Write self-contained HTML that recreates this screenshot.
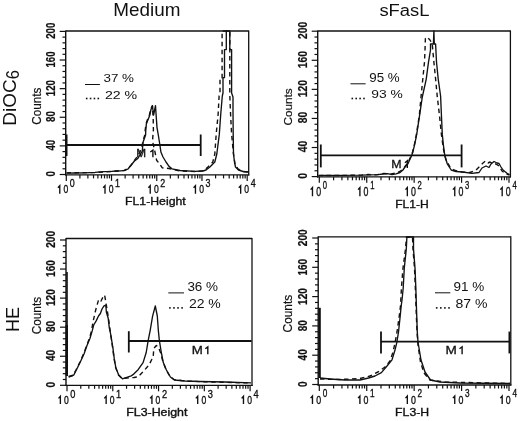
<!DOCTYPE html>
<html><head><meta charset="utf-8"><title>Figure</title>
<style>html,body{margin:0;padding:0;background:#fff;}body{width:520px;height:421px;position:relative;overflow:hidden;font-family:"Liberation Sans",sans-serif;}</style>
</head><body>
<svg width="520" height="421" viewBox="0 0 520 421" style="position:absolute;left:0;top:0;will-change:transform" font-family='"Liberation Sans", sans-serif' fill="#111">
<rect width="520" height="421" fill="#fff"/>
<text transform="translate(113.351,15.7) scale(1.083,1)" font-size="17.442" >Medium</text>
<text transform="translate(379.385,15.6) scale(1.092,1)" font-size="16.86" >sFasL</text>
<text transform="translate(15.7,125.756) rotate(-90) scale(1.07,1)" font-size="17.733" >DiOC</text>
<text transform="translate(19.3,79.252) rotate(-90) scale(0.942,1)" font-size="17.733" >6</text>
<text transform="translate(18.7,332.079) rotate(-90) scale(0.955,1)" font-size="18.895" >HE</text>
<line x1="65.7" y1="31" x2="248.7" y2="31" stroke="#111" stroke-width="1.3" />
<line x1="248.7" y1="30.4" x2="248.7" y2="175.5" stroke="#111" stroke-width="1.3" />
<line x1="65.7" y1="30.4" x2="65.7" y2="175.5" stroke="#111" stroke-width="1.4" />
<line x1="65.1" y1="174.9" x2="249.3" y2="174.9" stroke="#111" stroke-width="1.3" />
<line x1="59.7" y1="174.5" x2="65.7" y2="174.5" stroke="#111" stroke-width="1.2" />
<line x1="62.5" y1="168.78" x2="65.7" y2="168.78" stroke="#111" stroke-width="1.2" />
<line x1="62.5" y1="163.05" x2="65.7" y2="163.05" stroke="#111" stroke-width="1.2" />
<line x1="62.5" y1="157.33" x2="65.7" y2="157.33" stroke="#111" stroke-width="1.2" />
<line x1="62.5" y1="151.6" x2="65.7" y2="151.6" stroke="#111" stroke-width="1.2" />
<line x1="59.7" y1="145.88" x2="65.7" y2="145.88" stroke="#111" stroke-width="1.2" />
<line x1="62.5" y1="140.16" x2="65.7" y2="140.16" stroke="#111" stroke-width="1.2" />
<line x1="62.5" y1="134.43" x2="65.7" y2="134.43" stroke="#111" stroke-width="1.2" />
<line x1="62.5" y1="128.71" x2="65.7" y2="128.71" stroke="#111" stroke-width="1.2" />
<line x1="62.5" y1="122.98" x2="65.7" y2="122.98" stroke="#111" stroke-width="1.2" />
<line x1="59.7" y1="117.26" x2="65.7" y2="117.26" stroke="#111" stroke-width="1.2" />
<line x1="62.5" y1="111.54" x2="65.7" y2="111.54" stroke="#111" stroke-width="1.2" />
<line x1="62.5" y1="105.81" x2="65.7" y2="105.81" stroke="#111" stroke-width="1.2" />
<line x1="62.5" y1="100.09" x2="65.7" y2="100.09" stroke="#111" stroke-width="1.2" />
<line x1="62.5" y1="94.36" x2="65.7" y2="94.36" stroke="#111" stroke-width="1.2" />
<line x1="59.7" y1="88.64" x2="65.7" y2="88.64" stroke="#111" stroke-width="1.2" />
<line x1="62.5" y1="82.92" x2="65.7" y2="82.92" stroke="#111" stroke-width="1.2" />
<line x1="62.5" y1="77.19" x2="65.7" y2="77.19" stroke="#111" stroke-width="1.2" />
<line x1="62.5" y1="71.47" x2="65.7" y2="71.47" stroke="#111" stroke-width="1.2" />
<line x1="62.5" y1="65.74" x2="65.7" y2="65.74" stroke="#111" stroke-width="1.2" />
<line x1="59.7" y1="60.02" x2="65.7" y2="60.02" stroke="#111" stroke-width="1.2" />
<line x1="62.5" y1="54.3" x2="65.7" y2="54.3" stroke="#111" stroke-width="1.2" />
<line x1="62.5" y1="48.57" x2="65.7" y2="48.57" stroke="#111" stroke-width="1.2" />
<line x1="62.5" y1="42.85" x2="65.7" y2="42.85" stroke="#111" stroke-width="1.2" />
<line x1="62.5" y1="37.12" x2="65.7" y2="37.12" stroke="#111" stroke-width="1.2" />
<line x1="59.7" y1="31.4" x2="65.7" y2="31.4" stroke="#111" stroke-width="1.2" />
<line x1="66.3" y1="174.9" x2="66.3" y2="180.9" stroke="#111" stroke-width="1.2" />
<line x1="79.91" y1="174.9" x2="79.91" y2="178.4" stroke="#111" stroke-width="1.2" />
<line x1="87.88" y1="174.9" x2="87.88" y2="178.4" stroke="#111" stroke-width="1.2" />
<line x1="93.53" y1="174.9" x2="93.53" y2="178.4" stroke="#111" stroke-width="1.2" />
<line x1="97.91" y1="174.9" x2="97.91" y2="178.4" stroke="#111" stroke-width="1.2" />
<line x1="101.49" y1="174.9" x2="101.49" y2="178.4" stroke="#111" stroke-width="1.2" />
<line x1="104.52" y1="174.9" x2="104.52" y2="178.4" stroke="#111" stroke-width="1.2" />
<line x1="107.14" y1="174.9" x2="107.14" y2="178.4" stroke="#111" stroke-width="1.2" />
<line x1="109.46" y1="174.9" x2="109.46" y2="178.4" stroke="#111" stroke-width="1.2" />
<line x1="111.52" y1="174.9" x2="111.52" y2="180.9" stroke="#111" stroke-width="1.2" />
<line x1="125.14" y1="174.9" x2="125.14" y2="178.4" stroke="#111" stroke-width="1.2" />
<line x1="133.1" y1="174.9" x2="133.1" y2="178.4" stroke="#111" stroke-width="1.2" />
<line x1="138.75" y1="174.9" x2="138.75" y2="178.4" stroke="#111" stroke-width="1.2" />
<line x1="143.14" y1="174.9" x2="143.14" y2="178.4" stroke="#111" stroke-width="1.2" />
<line x1="146.72" y1="174.9" x2="146.72" y2="178.4" stroke="#111" stroke-width="1.2" />
<line x1="149.74" y1="174.9" x2="149.74" y2="178.4" stroke="#111" stroke-width="1.2" />
<line x1="152.37" y1="174.9" x2="152.37" y2="178.4" stroke="#111" stroke-width="1.2" />
<line x1="154.68" y1="174.9" x2="154.68" y2="178.4" stroke="#111" stroke-width="1.2" />
<line x1="156.75" y1="174.9" x2="156.75" y2="180.9" stroke="#111" stroke-width="1.2" />
<line x1="170.36" y1="174.9" x2="170.36" y2="178.4" stroke="#111" stroke-width="1.2" />
<line x1="178.33" y1="174.9" x2="178.33" y2="178.4" stroke="#111" stroke-width="1.2" />
<line x1="183.98" y1="174.9" x2="183.98" y2="178.4" stroke="#111" stroke-width="1.2" />
<line x1="188.36" y1="174.9" x2="188.36" y2="178.4" stroke="#111" stroke-width="1.2" />
<line x1="191.94" y1="174.9" x2="191.94" y2="178.4" stroke="#111" stroke-width="1.2" />
<line x1="194.97" y1="174.9" x2="194.97" y2="178.4" stroke="#111" stroke-width="1.2" />
<line x1="197.59" y1="174.9" x2="197.59" y2="178.4" stroke="#111" stroke-width="1.2" />
<line x1="199.91" y1="174.9" x2="199.91" y2="178.4" stroke="#111" stroke-width="1.2" />
<line x1="201.97" y1="174.9" x2="201.97" y2="180.9" stroke="#111" stroke-width="1.2" />
<line x1="215.59" y1="174.9" x2="215.59" y2="178.4" stroke="#111" stroke-width="1.2" />
<line x1="223.55" y1="174.9" x2="223.55" y2="178.4" stroke="#111" stroke-width="1.2" />
<line x1="229.2" y1="174.9" x2="229.2" y2="178.4" stroke="#111" stroke-width="1.2" />
<line x1="233.59" y1="174.9" x2="233.59" y2="178.4" stroke="#111" stroke-width="1.2" />
<line x1="237.17" y1="174.9" x2="237.17" y2="178.4" stroke="#111" stroke-width="1.2" />
<line x1="240.19" y1="174.9" x2="240.19" y2="178.4" stroke="#111" stroke-width="1.2" />
<line x1="242.82" y1="174.9" x2="242.82" y2="178.4" stroke="#111" stroke-width="1.2" />
<line x1="245.13" y1="174.9" x2="245.13" y2="178.4" stroke="#111" stroke-width="1.2" />
<line x1="247.2" y1="174.9" x2="247.2" y2="180.9" stroke="#111" stroke-width="1.2" />
<text transform="translate(54.7,176.584) rotate(-90) scale(0.759,1)" font-size="12.751" font-weight="bold" stroke="#111" stroke-width="0.2">0</text>
<text transform="translate(54.7,150.533) rotate(-90) scale(0.759,1)" font-size="12.751" font-weight="bold" stroke="#111" stroke-width="0.2">40</text>
<text transform="translate(54.7,121.995) rotate(-90) scale(0.759,1)" font-size="12.751" font-weight="bold" stroke="#111" stroke-width="0.2">80</text>
<text transform="translate(54.7,96.214) rotate(-90) scale(0.759,1)" font-size="12.751" font-weight="bold" stroke="#111" stroke-width="0.2">120</text>
<text transform="translate(54.7,67.594) rotate(-90) scale(0.759,1)" font-size="12.751" font-weight="bold" stroke="#111" stroke-width="0.2">160</text>
<text transform="translate(54.7,38.839) rotate(-90) scale(0.759,1)" font-size="12.751" font-weight="bold" stroke="#111" stroke-width="0.2">200</text>
<text transform="translate(40.9,124.696) rotate(-90) scale(0.914,1)" font-size="12.791" stroke="#111" stroke-width="0.2">Counts</text>
<path d="M57.9,187.8 L59.775,185.7 L59.775,193.7" fill="none" stroke="#111" stroke-width="1.35" stroke-linejoin="miter"/>
<text transform="translate(63.465,193.4) scale(0.778,1)" font-size="11.032"  stroke="#111" stroke-width="0.35">0</text>
<text transform="translate(69.754,186.9) scale(0.778,1)" font-size="11.461" stroke="#111" stroke-width="0.35">0</text>
<path d="M103.125,187.8 L105,185.7 L105,193.7" fill="none" stroke="#111" stroke-width="1.35" stroke-linejoin="miter"/>
<text transform="translate(108.69,193.4) scale(0.778,1)" font-size="11.032"  stroke="#111" stroke-width="0.35">0</text>
<text transform="translate(114.979,186.9) scale(0.778,1)" font-size="11.461" stroke="#111" stroke-width="0.35">1</text>
<path d="M148.35,187.8 L150.225,185.7 L150.225,193.7" fill="none" stroke="#111" stroke-width="1.35" stroke-linejoin="miter"/>
<text transform="translate(153.915,193.4) scale(0.778,1)" font-size="11.032"  stroke="#111" stroke-width="0.35">0</text>
<text transform="translate(160.204,186.9) scale(0.778,1)" font-size="11.461" stroke="#111" stroke-width="0.35">2</text>
<path d="M193.575,187.8 L195.45,185.7 L195.45,193.7" fill="none" stroke="#111" stroke-width="1.35" stroke-linejoin="miter"/>
<text transform="translate(199.14,193.4) scale(0.778,1)" font-size="11.032"  stroke="#111" stroke-width="0.35">0</text>
<text transform="translate(205.429,186.9) scale(0.778,1)" font-size="11.461" stroke="#111" stroke-width="0.35">3</text>
<path d="M238.8,187.8 L240.675,185.7 L240.675,193.7" fill="none" stroke="#111" stroke-width="1.35" stroke-linejoin="miter"/>
<text transform="translate(244.365,193.4) scale(0.778,1)" font-size="11.032"  stroke="#111" stroke-width="0.35">0</text>
<text transform="translate(250.654,186.9) scale(0.778,1)" font-size="11.461" stroke="#111" stroke-width="0.35">4</text>
<text transform="translate(124.992,205.2) scale(1.127,1)" font-size="10.901" stroke="#111" stroke-width="0.35">FL1-Height</text>
<line x1="317.7" y1="31" x2="510.4" y2="31" stroke="#111" stroke-width="1.3" />
<line x1="510.4" y1="30.4" x2="510.4" y2="177.4" stroke="#111" stroke-width="1.3" />
<line x1="317.7" y1="30.4" x2="317.7" y2="177.4" stroke="#111" stroke-width="1.4" />
<line x1="317.1" y1="176.8" x2="511" y2="176.8" stroke="#111" stroke-width="1.3" />
<line x1="311.7" y1="176.6" x2="317.7" y2="176.6" stroke="#111" stroke-width="1.2" />
<line x1="314.5" y1="170.78" x2="317.7" y2="170.78" stroke="#111" stroke-width="1.2" />
<line x1="314.5" y1="164.97" x2="317.7" y2="164.97" stroke="#111" stroke-width="1.2" />
<line x1="314.5" y1="159.15" x2="317.7" y2="159.15" stroke="#111" stroke-width="1.2" />
<line x1="314.5" y1="153.34" x2="317.7" y2="153.34" stroke="#111" stroke-width="1.2" />
<line x1="311.7" y1="147.52" x2="317.7" y2="147.52" stroke="#111" stroke-width="1.2" />
<line x1="314.5" y1="141.7" x2="317.7" y2="141.7" stroke="#111" stroke-width="1.2" />
<line x1="314.5" y1="135.89" x2="317.7" y2="135.89" stroke="#111" stroke-width="1.2" />
<line x1="314.5" y1="130.07" x2="317.7" y2="130.07" stroke="#111" stroke-width="1.2" />
<line x1="314.5" y1="124.26" x2="317.7" y2="124.26" stroke="#111" stroke-width="1.2" />
<line x1="311.7" y1="118.44" x2="317.7" y2="118.44" stroke="#111" stroke-width="1.2" />
<line x1="314.5" y1="112.62" x2="317.7" y2="112.62" stroke="#111" stroke-width="1.2" />
<line x1="314.5" y1="106.81" x2="317.7" y2="106.81" stroke="#111" stroke-width="1.2" />
<line x1="314.5" y1="100.99" x2="317.7" y2="100.99" stroke="#111" stroke-width="1.2" />
<line x1="314.5" y1="95.18" x2="317.7" y2="95.18" stroke="#111" stroke-width="1.2" />
<line x1="311.7" y1="89.36" x2="317.7" y2="89.36" stroke="#111" stroke-width="1.2" />
<line x1="314.5" y1="83.54" x2="317.7" y2="83.54" stroke="#111" stroke-width="1.2" />
<line x1="314.5" y1="77.73" x2="317.7" y2="77.73" stroke="#111" stroke-width="1.2" />
<line x1="314.5" y1="71.91" x2="317.7" y2="71.91" stroke="#111" stroke-width="1.2" />
<line x1="314.5" y1="66.1" x2="317.7" y2="66.1" stroke="#111" stroke-width="1.2" />
<line x1="311.7" y1="60.28" x2="317.7" y2="60.28" stroke="#111" stroke-width="1.2" />
<line x1="314.5" y1="54.46" x2="317.7" y2="54.46" stroke="#111" stroke-width="1.2" />
<line x1="314.5" y1="48.65" x2="317.7" y2="48.65" stroke="#111" stroke-width="1.2" />
<line x1="314.5" y1="42.83" x2="317.7" y2="42.83" stroke="#111" stroke-width="1.2" />
<line x1="314.5" y1="37.02" x2="317.7" y2="37.02" stroke="#111" stroke-width="1.2" />
<line x1="311.7" y1="31.2" x2="317.7" y2="31.2" stroke="#111" stroke-width="1.2" />
<line x1="319.3" y1="176.8" x2="319.3" y2="182.8" stroke="#111" stroke-width="1.2" />
<line x1="333.58" y1="176.8" x2="333.58" y2="180.3" stroke="#111" stroke-width="1.2" />
<line x1="341.93" y1="176.8" x2="341.93" y2="180.3" stroke="#111" stroke-width="1.2" />
<line x1="347.85" y1="176.8" x2="347.85" y2="180.3" stroke="#111" stroke-width="1.2" />
<line x1="352.45" y1="176.8" x2="352.45" y2="180.3" stroke="#111" stroke-width="1.2" />
<line x1="356.2" y1="176.8" x2="356.2" y2="180.3" stroke="#111" stroke-width="1.2" />
<line x1="359.38" y1="176.8" x2="359.38" y2="180.3" stroke="#111" stroke-width="1.2" />
<line x1="362.13" y1="176.8" x2="362.13" y2="180.3" stroke="#111" stroke-width="1.2" />
<line x1="364.55" y1="176.8" x2="364.55" y2="180.3" stroke="#111" stroke-width="1.2" />
<line x1="366.73" y1="176.8" x2="366.73" y2="182.8" stroke="#111" stroke-width="1.2" />
<line x1="381" y1="176.8" x2="381" y2="180.3" stroke="#111" stroke-width="1.2" />
<line x1="389.35" y1="176.8" x2="389.35" y2="180.3" stroke="#111" stroke-width="1.2" />
<line x1="395.28" y1="176.8" x2="395.28" y2="180.3" stroke="#111" stroke-width="1.2" />
<line x1="399.87" y1="176.8" x2="399.87" y2="180.3" stroke="#111" stroke-width="1.2" />
<line x1="403.63" y1="176.8" x2="403.63" y2="180.3" stroke="#111" stroke-width="1.2" />
<line x1="406.8" y1="176.8" x2="406.8" y2="180.3" stroke="#111" stroke-width="1.2" />
<line x1="409.55" y1="176.8" x2="409.55" y2="180.3" stroke="#111" stroke-width="1.2" />
<line x1="411.98" y1="176.8" x2="411.98" y2="180.3" stroke="#111" stroke-width="1.2" />
<line x1="414.15" y1="176.8" x2="414.15" y2="182.8" stroke="#111" stroke-width="1.2" />
<line x1="428.43" y1="176.8" x2="428.43" y2="180.3" stroke="#111" stroke-width="1.2" />
<line x1="436.78" y1="176.8" x2="436.78" y2="180.3" stroke="#111" stroke-width="1.2" />
<line x1="442.7" y1="176.8" x2="442.7" y2="180.3" stroke="#111" stroke-width="1.2" />
<line x1="447.3" y1="176.8" x2="447.3" y2="180.3" stroke="#111" stroke-width="1.2" />
<line x1="451.05" y1="176.8" x2="451.05" y2="180.3" stroke="#111" stroke-width="1.2" />
<line x1="454.23" y1="176.8" x2="454.23" y2="180.3" stroke="#111" stroke-width="1.2" />
<line x1="456.98" y1="176.8" x2="456.98" y2="180.3" stroke="#111" stroke-width="1.2" />
<line x1="459.4" y1="176.8" x2="459.4" y2="180.3" stroke="#111" stroke-width="1.2" />
<line x1="461.57" y1="176.8" x2="461.57" y2="182.8" stroke="#111" stroke-width="1.2" />
<line x1="475.85" y1="176.8" x2="475.85" y2="180.3" stroke="#111" stroke-width="1.2" />
<line x1="484.2" y1="176.8" x2="484.2" y2="180.3" stroke="#111" stroke-width="1.2" />
<line x1="490.13" y1="176.8" x2="490.13" y2="180.3" stroke="#111" stroke-width="1.2" />
<line x1="494.72" y1="176.8" x2="494.72" y2="180.3" stroke="#111" stroke-width="1.2" />
<line x1="498.48" y1="176.8" x2="498.48" y2="180.3" stroke="#111" stroke-width="1.2" />
<line x1="501.65" y1="176.8" x2="501.65" y2="180.3" stroke="#111" stroke-width="1.2" />
<line x1="504.4" y1="176.8" x2="504.4" y2="180.3" stroke="#111" stroke-width="1.2" />
<line x1="506.83" y1="176.8" x2="506.83" y2="180.3" stroke="#111" stroke-width="1.2" />
<line x1="509" y1="176.8" x2="509" y2="182.8" stroke="#111" stroke-width="1.2" />
<text transform="translate(306.5,178.659) rotate(-90) scale(0.836,1)" font-size="12.321" font-weight="bold" stroke="#111" stroke-width="0.2">0</text>
<text transform="translate(306.5,152.314) rotate(-90) scale(0.836,1)" font-size="12.321" font-weight="bold" stroke="#111" stroke-width="0.2">40</text>
<text transform="translate(306.5,123.321) rotate(-90) scale(0.836,1)" font-size="12.321" font-weight="bold" stroke="#111" stroke-width="0.2">80</text>
<text transform="translate(306.5,97.265) rotate(-90) scale(0.836,1)" font-size="12.321" font-weight="bold" stroke="#111" stroke-width="0.2">120</text>
<text transform="translate(306.5,68.185) rotate(-90) scale(0.836,1)" font-size="12.321" font-weight="bold" stroke="#111" stroke-width="0.2">160</text>
<text transform="translate(306.5,38.961) rotate(-90) scale(0.836,1)" font-size="12.321" font-weight="bold" stroke="#111" stroke-width="0.2">200</text>
<text transform="translate(292.3,125.601) rotate(-90) scale(1.039,1)" font-size="11.337" stroke="#111" stroke-width="0.2">Counts</text>
<path d="M310.6,189.6 L312.475,187.5 L312.475,196.3" fill="none" stroke="#111" stroke-width="1.35" stroke-linejoin="miter"/>
<text transform="translate(316.157,196) scale(0.722,1)" font-size="12.178"  stroke="#111" stroke-width="0.35">0</text>
<text transform="translate(322.718,189.1) scale(0.722,1)" font-size="10.602" stroke="#111" stroke-width="0.35">0</text>
<path d="M358.025,189.6 L359.9,187.5 L359.9,196.3" fill="none" stroke="#111" stroke-width="1.35" stroke-linejoin="miter"/>
<text transform="translate(363.582,196) scale(0.722,1)" font-size="12.178"  stroke="#111" stroke-width="0.35">0</text>
<text transform="translate(370.143,189.1) scale(0.722,1)" font-size="10.602" stroke="#111" stroke-width="0.35">1</text>
<path d="M405.45,189.6 L407.325,187.5 L407.325,196.3" fill="none" stroke="#111" stroke-width="1.35" stroke-linejoin="miter"/>
<text transform="translate(411.007,196) scale(0.722,1)" font-size="12.178"  stroke="#111" stroke-width="0.35">0</text>
<text transform="translate(417.568,189.1) scale(0.722,1)" font-size="10.602" stroke="#111" stroke-width="0.35">2</text>
<path d="M452.875,189.6 L454.75,187.5 L454.75,196.3" fill="none" stroke="#111" stroke-width="1.35" stroke-linejoin="miter"/>
<text transform="translate(458.432,196) scale(0.722,1)" font-size="12.178"  stroke="#111" stroke-width="0.35">0</text>
<text transform="translate(464.993,189.1) scale(0.722,1)" font-size="10.602" stroke="#111" stroke-width="0.35">3</text>
<path d="M500.3,189.6 L502.175,187.5 L502.175,196.3" fill="none" stroke="#111" stroke-width="1.35" stroke-linejoin="miter"/>
<text transform="translate(505.857,196) scale(0.722,1)" font-size="12.178"  stroke="#111" stroke-width="0.35">0</text>
<text transform="translate(512.418,189.1) scale(0.722,1)" font-size="10.602" stroke="#111" stroke-width="0.35">4</text>
<text transform="translate(395.206,207.6) scale(1.069,1)" font-size="11.337" stroke="#111" stroke-width="0.35">FL1-H</text>
<line x1="66" y1="238.5" x2="252" y2="238.5" stroke="#111" stroke-width="1.3" />
<line x1="252" y1="237.9" x2="252" y2="385.9" stroke="#111" stroke-width="1.3" />
<line x1="66" y1="237.9" x2="66" y2="385.9" stroke="#111" stroke-width="1.4" />
<line x1="65.4" y1="385.3" x2="252.6" y2="385.3" stroke="#111" stroke-width="1.3" />
<line x1="60" y1="385.3" x2="66" y2="385.3" stroke="#111" stroke-width="1.2" />
<line x1="62.8" y1="379.49" x2="66" y2="379.49" stroke="#111" stroke-width="1.2" />
<line x1="62.8" y1="373.68" x2="66" y2="373.68" stroke="#111" stroke-width="1.2" />
<line x1="62.8" y1="367.86" x2="66" y2="367.86" stroke="#111" stroke-width="1.2" />
<line x1="62.8" y1="362.05" x2="66" y2="362.05" stroke="#111" stroke-width="1.2" />
<line x1="60" y1="356.24" x2="66" y2="356.24" stroke="#111" stroke-width="1.2" />
<line x1="62.8" y1="350.43" x2="66" y2="350.43" stroke="#111" stroke-width="1.2" />
<line x1="62.8" y1="344.62" x2="66" y2="344.62" stroke="#111" stroke-width="1.2" />
<line x1="62.8" y1="338.8" x2="66" y2="338.8" stroke="#111" stroke-width="1.2" />
<line x1="62.8" y1="332.99" x2="66" y2="332.99" stroke="#111" stroke-width="1.2" />
<line x1="60" y1="327.18" x2="66" y2="327.18" stroke="#111" stroke-width="1.2" />
<line x1="62.8" y1="321.37" x2="66" y2="321.37" stroke="#111" stroke-width="1.2" />
<line x1="62.8" y1="315.56" x2="66" y2="315.56" stroke="#111" stroke-width="1.2" />
<line x1="62.8" y1="309.74" x2="66" y2="309.74" stroke="#111" stroke-width="1.2" />
<line x1="62.8" y1="303.93" x2="66" y2="303.93" stroke="#111" stroke-width="1.2" />
<line x1="60" y1="298.12" x2="66" y2="298.12" stroke="#111" stroke-width="1.2" />
<line x1="62.8" y1="292.31" x2="66" y2="292.31" stroke="#111" stroke-width="1.2" />
<line x1="62.8" y1="286.5" x2="66" y2="286.5" stroke="#111" stroke-width="1.2" />
<line x1="62.8" y1="280.68" x2="66" y2="280.68" stroke="#111" stroke-width="1.2" />
<line x1="62.8" y1="274.87" x2="66" y2="274.87" stroke="#111" stroke-width="1.2" />
<line x1="60" y1="269.06" x2="66" y2="269.06" stroke="#111" stroke-width="1.2" />
<line x1="62.8" y1="263.25" x2="66" y2="263.25" stroke="#111" stroke-width="1.2" />
<line x1="62.8" y1="257.44" x2="66" y2="257.44" stroke="#111" stroke-width="1.2" />
<line x1="62.8" y1="251.62" x2="66" y2="251.62" stroke="#111" stroke-width="1.2" />
<line x1="62.8" y1="245.81" x2="66" y2="245.81" stroke="#111" stroke-width="1.2" />
<line x1="60" y1="240" x2="66" y2="240" stroke="#111" stroke-width="1.2" />
<line x1="67" y1="385.3" x2="67" y2="391.3" stroke="#111" stroke-width="1.2" />
<line x1="80.78" y1="385.3" x2="80.78" y2="388.8" stroke="#111" stroke-width="1.2" />
<line x1="88.84" y1="385.3" x2="88.84" y2="388.8" stroke="#111" stroke-width="1.2" />
<line x1="94.56" y1="385.3" x2="94.56" y2="388.8" stroke="#111" stroke-width="1.2" />
<line x1="99" y1="385.3" x2="99" y2="388.8" stroke="#111" stroke-width="1.2" />
<line x1="102.62" y1="385.3" x2="102.62" y2="388.8" stroke="#111" stroke-width="1.2" />
<line x1="105.68" y1="385.3" x2="105.68" y2="388.8" stroke="#111" stroke-width="1.2" />
<line x1="108.34" y1="385.3" x2="108.34" y2="388.8" stroke="#111" stroke-width="1.2" />
<line x1="110.68" y1="385.3" x2="110.68" y2="388.8" stroke="#111" stroke-width="1.2" />
<line x1="112.78" y1="385.3" x2="112.78" y2="391.3" stroke="#111" stroke-width="1.2" />
<line x1="126.55" y1="385.3" x2="126.55" y2="388.8" stroke="#111" stroke-width="1.2" />
<line x1="134.62" y1="385.3" x2="134.62" y2="388.8" stroke="#111" stroke-width="1.2" />
<line x1="140.33" y1="385.3" x2="140.33" y2="388.8" stroke="#111" stroke-width="1.2" />
<line x1="144.77" y1="385.3" x2="144.77" y2="388.8" stroke="#111" stroke-width="1.2" />
<line x1="148.39" y1="385.3" x2="148.39" y2="388.8" stroke="#111" stroke-width="1.2" />
<line x1="151.46" y1="385.3" x2="151.46" y2="388.8" stroke="#111" stroke-width="1.2" />
<line x1="154.11" y1="385.3" x2="154.11" y2="388.8" stroke="#111" stroke-width="1.2" />
<line x1="156.46" y1="385.3" x2="156.46" y2="388.8" stroke="#111" stroke-width="1.2" />
<line x1="158.55" y1="385.3" x2="158.55" y2="391.3" stroke="#111" stroke-width="1.2" />
<line x1="172.33" y1="385.3" x2="172.33" y2="388.8" stroke="#111" stroke-width="1.2" />
<line x1="180.39" y1="385.3" x2="180.39" y2="388.8" stroke="#111" stroke-width="1.2" />
<line x1="186.11" y1="385.3" x2="186.11" y2="388.8" stroke="#111" stroke-width="1.2" />
<line x1="190.55" y1="385.3" x2="190.55" y2="388.8" stroke="#111" stroke-width="1.2" />
<line x1="194.17" y1="385.3" x2="194.17" y2="388.8" stroke="#111" stroke-width="1.2" />
<line x1="197.23" y1="385.3" x2="197.23" y2="388.8" stroke="#111" stroke-width="1.2" />
<line x1="199.89" y1="385.3" x2="199.89" y2="388.8" stroke="#111" stroke-width="1.2" />
<line x1="202.23" y1="385.3" x2="202.23" y2="388.8" stroke="#111" stroke-width="1.2" />
<line x1="204.32" y1="385.3" x2="204.32" y2="391.3" stroke="#111" stroke-width="1.2" />
<line x1="218.1" y1="385.3" x2="218.1" y2="388.8" stroke="#111" stroke-width="1.2" />
<line x1="226.17" y1="385.3" x2="226.17" y2="388.8" stroke="#111" stroke-width="1.2" />
<line x1="231.88" y1="385.3" x2="231.88" y2="388.8" stroke="#111" stroke-width="1.2" />
<line x1="236.32" y1="385.3" x2="236.32" y2="388.8" stroke="#111" stroke-width="1.2" />
<line x1="239.94" y1="385.3" x2="239.94" y2="388.8" stroke="#111" stroke-width="1.2" />
<line x1="243.01" y1="385.3" x2="243.01" y2="388.8" stroke="#111" stroke-width="1.2" />
<line x1="245.66" y1="385.3" x2="245.66" y2="388.8" stroke="#111" stroke-width="1.2" />
<line x1="248.01" y1="385.3" x2="248.01" y2="388.8" stroke="#111" stroke-width="1.2" />
<line x1="250.1" y1="385.3" x2="250.1" y2="391.3" stroke="#111" stroke-width="1.2" />
<text transform="translate(54.7,387.489) rotate(-90) scale(0.763,1)" font-size="13.181" font-weight="bold" stroke="#111" stroke-width="0.2">0</text>
<text transform="translate(54.7,361.097) rotate(-90) scale(0.763,1)" font-size="13.181" font-weight="bold" stroke="#111" stroke-width="0.2">40</text>
<text transform="translate(54.7,332.123) rotate(-90) scale(0.763,1)" font-size="13.181" font-weight="bold" stroke="#111" stroke-width="0.2">80</text>
<text transform="translate(54.7,306.012) rotate(-90) scale(0.763,1)" font-size="13.181" font-weight="bold" stroke="#111" stroke-width="0.2">120</text>
<text transform="translate(54.7,276.952) rotate(-90) scale(0.763,1)" font-size="13.181" font-weight="bold" stroke="#111" stroke-width="0.2">160</text>
<text transform="translate(54.7,247.752) rotate(-90) scale(0.763,1)" font-size="13.181" font-weight="bold" stroke="#111" stroke-width="0.2">200</text>
<text transform="translate(40.5,334.303) rotate(-90) scale(0.945,1)" font-size="12.5" stroke="#111" stroke-width="0.2">Counts</text>
<path d="M58.5,398.4 L60.375,396.3 L60.375,404.1" fill="none" stroke="#111" stroke-width="1.35" stroke-linejoin="miter"/>
<text transform="translate(64.065,403.8) scale(0.798,1)" font-size="10.745"  stroke="#111" stroke-width="0.35">0</text>
<text transform="translate(70.337,397.7) scale(0.798,1)" font-size="11.605" stroke="#111" stroke-width="0.35">0</text>
<path d="M104.275,398.4 L106.15,396.3 L106.15,404.1" fill="none" stroke="#111" stroke-width="1.35" stroke-linejoin="miter"/>
<text transform="translate(109.84,403.8) scale(0.798,1)" font-size="10.745"  stroke="#111" stroke-width="0.35">0</text>
<text transform="translate(116.112,397.7) scale(0.798,1)" font-size="11.605" stroke="#111" stroke-width="0.35">1</text>
<path d="M150.05,398.4 L151.925,396.3 L151.925,404.1" fill="none" stroke="#111" stroke-width="1.35" stroke-linejoin="miter"/>
<text transform="translate(155.615,403.8) scale(0.798,1)" font-size="10.745"  stroke="#111" stroke-width="0.35">0</text>
<text transform="translate(161.887,397.7) scale(0.798,1)" font-size="11.605" stroke="#111" stroke-width="0.35">2</text>
<path d="M195.825,398.4 L197.7,396.3 L197.7,404.1" fill="none" stroke="#111" stroke-width="1.35" stroke-linejoin="miter"/>
<text transform="translate(201.39,403.8) scale(0.798,1)" font-size="10.745"  stroke="#111" stroke-width="0.35">0</text>
<text transform="translate(207.662,397.7) scale(0.798,1)" font-size="11.605" stroke="#111" stroke-width="0.35">3</text>
<path d="M241.6,398.4 L243.475,396.3 L243.475,404.1" fill="none" stroke="#111" stroke-width="1.35" stroke-linejoin="miter"/>
<text transform="translate(247.165,403.8) scale(0.798,1)" font-size="10.745"  stroke="#111" stroke-width="0.35">0</text>
<text transform="translate(253.437,397.7) scale(0.798,1)" font-size="11.605" stroke="#111" stroke-width="0.35">4</text>
<text transform="translate(126.184,416.2) scale(1.201,1)" font-size="10.32" stroke="#111" stroke-width="0.35">FL3-Height</text>
<line x1="318.2" y1="236.8" x2="510.8" y2="236.8" stroke="#111" stroke-width="1.3" />
<line x1="510.8" y1="236.2" x2="510.8" y2="385.6" stroke="#111" stroke-width="1.3" />
<line x1="318.2" y1="236.2" x2="318.2" y2="385.6" stroke="#111" stroke-width="1.4" />
<line x1="317.6" y1="385" x2="511.4" y2="385" stroke="#111" stroke-width="1.3" />
<line x1="312.2" y1="384.5" x2="318.2" y2="384.5" stroke="#111" stroke-width="1.2" />
<line x1="315" y1="378.64" x2="318.2" y2="378.64" stroke="#111" stroke-width="1.2" />
<line x1="315" y1="372.78" x2="318.2" y2="372.78" stroke="#111" stroke-width="1.2" />
<line x1="315" y1="366.92" x2="318.2" y2="366.92" stroke="#111" stroke-width="1.2" />
<line x1="315" y1="361.06" x2="318.2" y2="361.06" stroke="#111" stroke-width="1.2" />
<line x1="312.2" y1="355.2" x2="318.2" y2="355.2" stroke="#111" stroke-width="1.2" />
<line x1="315" y1="349.34" x2="318.2" y2="349.34" stroke="#111" stroke-width="1.2" />
<line x1="315" y1="343.48" x2="318.2" y2="343.48" stroke="#111" stroke-width="1.2" />
<line x1="315" y1="337.62" x2="318.2" y2="337.62" stroke="#111" stroke-width="1.2" />
<line x1="315" y1="331.76" x2="318.2" y2="331.76" stroke="#111" stroke-width="1.2" />
<line x1="312.2" y1="325.9" x2="318.2" y2="325.9" stroke="#111" stroke-width="1.2" />
<line x1="315" y1="320.04" x2="318.2" y2="320.04" stroke="#111" stroke-width="1.2" />
<line x1="315" y1="314.18" x2="318.2" y2="314.18" stroke="#111" stroke-width="1.2" />
<line x1="315" y1="308.32" x2="318.2" y2="308.32" stroke="#111" stroke-width="1.2" />
<line x1="315" y1="302.46" x2="318.2" y2="302.46" stroke="#111" stroke-width="1.2" />
<line x1="312.2" y1="296.6" x2="318.2" y2="296.6" stroke="#111" stroke-width="1.2" />
<line x1="315" y1="290.74" x2="318.2" y2="290.74" stroke="#111" stroke-width="1.2" />
<line x1="315" y1="284.88" x2="318.2" y2="284.88" stroke="#111" stroke-width="1.2" />
<line x1="315" y1="279.02" x2="318.2" y2="279.02" stroke="#111" stroke-width="1.2" />
<line x1="315" y1="273.16" x2="318.2" y2="273.16" stroke="#111" stroke-width="1.2" />
<line x1="312.2" y1="267.3" x2="318.2" y2="267.3" stroke="#111" stroke-width="1.2" />
<line x1="315" y1="261.44" x2="318.2" y2="261.44" stroke="#111" stroke-width="1.2" />
<line x1="315" y1="255.58" x2="318.2" y2="255.58" stroke="#111" stroke-width="1.2" />
<line x1="315" y1="249.72" x2="318.2" y2="249.72" stroke="#111" stroke-width="1.2" />
<line x1="315" y1="243.86" x2="318.2" y2="243.86" stroke="#111" stroke-width="1.2" />
<line x1="312.2" y1="238" x2="318.2" y2="238" stroke="#111" stroke-width="1.2" />
<line x1="319.3" y1="385" x2="319.3" y2="391" stroke="#111" stroke-width="1.2" />
<line x1="333.58" y1="385" x2="333.58" y2="388.5" stroke="#111" stroke-width="1.2" />
<line x1="341.93" y1="385" x2="341.93" y2="388.5" stroke="#111" stroke-width="1.2" />
<line x1="347.85" y1="385" x2="347.85" y2="388.5" stroke="#111" stroke-width="1.2" />
<line x1="352.45" y1="385" x2="352.45" y2="388.5" stroke="#111" stroke-width="1.2" />
<line x1="356.2" y1="385" x2="356.2" y2="388.5" stroke="#111" stroke-width="1.2" />
<line x1="359.38" y1="385" x2="359.38" y2="388.5" stroke="#111" stroke-width="1.2" />
<line x1="362.13" y1="385" x2="362.13" y2="388.5" stroke="#111" stroke-width="1.2" />
<line x1="364.55" y1="385" x2="364.55" y2="388.5" stroke="#111" stroke-width="1.2" />
<line x1="366.73" y1="385" x2="366.73" y2="391" stroke="#111" stroke-width="1.2" />
<line x1="381" y1="385" x2="381" y2="388.5" stroke="#111" stroke-width="1.2" />
<line x1="389.35" y1="385" x2="389.35" y2="388.5" stroke="#111" stroke-width="1.2" />
<line x1="395.28" y1="385" x2="395.28" y2="388.5" stroke="#111" stroke-width="1.2" />
<line x1="399.87" y1="385" x2="399.87" y2="388.5" stroke="#111" stroke-width="1.2" />
<line x1="403.63" y1="385" x2="403.63" y2="388.5" stroke="#111" stroke-width="1.2" />
<line x1="406.8" y1="385" x2="406.8" y2="388.5" stroke="#111" stroke-width="1.2" />
<line x1="409.55" y1="385" x2="409.55" y2="388.5" stroke="#111" stroke-width="1.2" />
<line x1="411.98" y1="385" x2="411.98" y2="388.5" stroke="#111" stroke-width="1.2" />
<line x1="414.15" y1="385" x2="414.15" y2="391" stroke="#111" stroke-width="1.2" />
<line x1="428.43" y1="385" x2="428.43" y2="388.5" stroke="#111" stroke-width="1.2" />
<line x1="436.78" y1="385" x2="436.78" y2="388.5" stroke="#111" stroke-width="1.2" />
<line x1="442.7" y1="385" x2="442.7" y2="388.5" stroke="#111" stroke-width="1.2" />
<line x1="447.3" y1="385" x2="447.3" y2="388.5" stroke="#111" stroke-width="1.2" />
<line x1="451.05" y1="385" x2="451.05" y2="388.5" stroke="#111" stroke-width="1.2" />
<line x1="454.23" y1="385" x2="454.23" y2="388.5" stroke="#111" stroke-width="1.2" />
<line x1="456.98" y1="385" x2="456.98" y2="388.5" stroke="#111" stroke-width="1.2" />
<line x1="459.4" y1="385" x2="459.4" y2="388.5" stroke="#111" stroke-width="1.2" />
<line x1="461.57" y1="385" x2="461.57" y2="391" stroke="#111" stroke-width="1.2" />
<line x1="475.85" y1="385" x2="475.85" y2="388.5" stroke="#111" stroke-width="1.2" />
<line x1="484.2" y1="385" x2="484.2" y2="388.5" stroke="#111" stroke-width="1.2" />
<line x1="490.13" y1="385" x2="490.13" y2="388.5" stroke="#111" stroke-width="1.2" />
<line x1="494.72" y1="385" x2="494.72" y2="388.5" stroke="#111" stroke-width="1.2" />
<line x1="498.48" y1="385" x2="498.48" y2="388.5" stroke="#111" stroke-width="1.2" />
<line x1="501.65" y1="385" x2="501.65" y2="388.5" stroke="#111" stroke-width="1.2" />
<line x1="504.4" y1="385" x2="504.4" y2="388.5" stroke="#111" stroke-width="1.2" />
<line x1="506.83" y1="385" x2="506.83" y2="388.5" stroke="#111" stroke-width="1.2" />
<line x1="509" y1="385" x2="509" y2="391" stroke="#111" stroke-width="1.2" />
<text transform="translate(306.5,387.089) rotate(-90) scale(0.816,1)" font-size="12.321" font-weight="bold" stroke="#111" stroke-width="0.2">0</text>
<text transform="translate(306.5,360.457) rotate(-90) scale(0.816,1)" font-size="12.321" font-weight="bold" stroke="#111" stroke-width="0.2">40</text>
<text transform="translate(306.5,331.243) rotate(-90) scale(0.816,1)" font-size="12.321" font-weight="bold" stroke="#111" stroke-width="0.2">80</text>
<text transform="translate(306.5,304.892) rotate(-90) scale(0.816,1)" font-size="12.321" font-weight="bold" stroke="#111" stroke-width="0.2">120</text>
<text transform="translate(306.5,275.592) rotate(-90) scale(0.816,1)" font-size="12.321" font-weight="bold" stroke="#111" stroke-width="0.2">160</text>
<text transform="translate(306.5,246.152) rotate(-90) scale(0.816,1)" font-size="12.321" font-weight="bold" stroke="#111" stroke-width="0.2">200</text>
<text transform="translate(292.3,332.406) rotate(-90) scale(0.997,1)" font-size="11.919" stroke="#111" stroke-width="0.2">Counts</text>
<path d="M310.6,398.1 L312.475,396 L312.475,404" fill="none" stroke="#111" stroke-width="1.35" stroke-linejoin="miter"/>
<text transform="translate(316.157,403.7) scale(0.797,1)" font-size="11.032"  stroke="#111" stroke-width="0.35">0</text>
<text transform="translate(322.689,397.3) scale(0.797,1)" font-size="10.315" stroke="#111" stroke-width="0.35">0</text>
<path d="M358.025,398.1 L359.9,396 L359.9,404" fill="none" stroke="#111" stroke-width="1.35" stroke-linejoin="miter"/>
<text transform="translate(363.582,403.7) scale(0.797,1)" font-size="11.032"  stroke="#111" stroke-width="0.35">0</text>
<text transform="translate(370.114,397.3) scale(0.797,1)" font-size="10.315" stroke="#111" stroke-width="0.35">1</text>
<path d="M405.45,398.1 L407.325,396 L407.325,404" fill="none" stroke="#111" stroke-width="1.35" stroke-linejoin="miter"/>
<text transform="translate(411.007,403.7) scale(0.797,1)" font-size="11.032"  stroke="#111" stroke-width="0.35">0</text>
<text transform="translate(417.539,397.3) scale(0.797,1)" font-size="10.315" stroke="#111" stroke-width="0.35">2</text>
<path d="M452.875,398.1 L454.75,396 L454.75,404" fill="none" stroke="#111" stroke-width="1.35" stroke-linejoin="miter"/>
<text transform="translate(458.432,403.7) scale(0.797,1)" font-size="11.032"  stroke="#111" stroke-width="0.35">0</text>
<text transform="translate(464.964,397.3) scale(0.797,1)" font-size="10.315" stroke="#111" stroke-width="0.35">3</text>
<path d="M500.3,398.1 L502.175,396 L502.175,404" fill="none" stroke="#111" stroke-width="1.35" stroke-linejoin="miter"/>
<text transform="translate(505.857,403.7) scale(0.797,1)" font-size="11.032"  stroke="#111" stroke-width="0.35">0</text>
<text transform="translate(512.389,397.3) scale(0.797,1)" font-size="10.315" stroke="#111" stroke-width="0.35">4</text>
<text transform="translate(395.093,415.5) scale(1.141,1)" font-size="10.756" stroke="#111" stroke-width="0.35">FL3-H</text>
<polyline points="66.5,172.9 80,172.6 95,172.6 105,171.8 112,171.4 118,171 124,170.5 128,168.5 131,165.5 134,161 137,157 140,152 142,146 143,141 144.8,135 145.2,130 146,124 147.5,119.5 149.5,114.5 150.8,109 152.4,105.7 153.2,118 153.4,130 152.5,141 155,152 156.6,160.2 159.4,163.6 162.3,167.9 169,168.5 180,171 195,171.5 200,171.2 204,170.5 207.9,167 212.8,162 214.8,154 216.2,134 218.1,114.7 219.1,96 220,94 220,78 222.1,78 222.1,31 229.8,31 229.8,95 230.6,114.7 231.6,134 233.5,154 235,164 238,169 243,171.5 248.5,172" fill="none" stroke="#111" stroke-width="1.4" stroke-linejoin="round" stroke-dasharray="4.5,3.5"/>
<polyline points="66.5,173.2 75,173 85,172.8 95,172.4 104,171.6 111.5,171.3 116,171 120.8,170.8 125,170.4 128,169 130.3,166 134.5,161 137.5,158.8 140,155 142.3,151 142.8,145 143.2,141.7 145.6,135 145.7,131.4 146.4,123.8 147.9,120 149.8,115.2 151,109.5 152.4,105.7 153.6,115 155.5,105.7 156,113.3 157,127.6 158.3,135 159.9,145 160.9,152 163,157 166,162 169,166.4 172,168.8 180,170.5 195,171.3 203,171 206,170 209.9,167 214.8,162 216.8,154 219.3,134.4 220.7,114.7 222.3,96 223,93 223,77.6 224.5,77.6 224.5,49.6 226.3,49.6 226.3,31 229.8,31 229.8,49.6 231.6,49.6 231.6,93 233,97 233,110 233.2,134 233.5,154 234.5,162 235.5,167 238.5,170 243,171.5 248.5,172" fill="none" stroke="#111" stroke-width="1.35" stroke-linejoin="round"/>
<polyline points="318.5,175.6 345,175.4 362,175 368,174.5 376,174.9 384,173.4 390,174.2 395,173.2 399,172 402.5,169.5 405,166.5 408,162.5 411.5,155 412.6,152 414.5,144 416.5,134 419.4,114.7 421.1,96 422.8,79 424.5,62 425,50 425.4,38.5 427,37 428.5,38.5 430,40 432.2,44 433.9,62 435.6,79 437.2,96 439.4,114.7 441.4,134.4 442.7,144 444.3,154 446,160 450,167 455,170.5 462,172 470,172.5 476,170 480,166 483,163 485.5,161 488,163 490,162 493,164 496,164 499,166 502,171 506,174 509.5,175" fill="none" stroke="#111" stroke-width="1.4" stroke-linejoin="round" stroke-dasharray="4.5,3.5"/>
<polyline points="318.5,175.3 340,175.3 362,175.2 370,174.8 378,174.7 383,174 387.4,173.6 392,174.6 396,173.8 400,172.5 402.9,170 405,167 407.8,164 411.8,155.3 412.8,152.2 414.7,144.3 416.7,134.4 419.7,114.7 422.3,97 426.2,79.3 428.5,62.2 430.5,50 430.5,44 433.4,44 433.9,31 434.3,44 435.6,44 436.5,62 438.2,79 440.6,96 441.4,114.7 442.3,134.4 443.3,144.3 444.7,155 447.3,164 451.2,170 456,171.5 462.5,172 472,173.3 479,172.5 482,168 486,166 489,167.5 491,164 494,161.5 497,163 499,163.5 501,167 503,170 507,173.3 509.5,174.5" fill="none" stroke="#111" stroke-width="1.35" stroke-linejoin="round"/>
<polyline points="68.6,377.2 73,375.5 76,370 80,362 83.5,354 86.5,346 89.5,338 91.5,331 93,322 95.7,310 98.7,299.3 101,301 103,297 104.6,295.1 106,303 107.5,312 109,322 110.5,333 112.5,347 114,358 115.5,367 118.5,375 122,378.5 127,378 134,377.5 138,376.8 144.1,370.7 149.2,364.6 153.2,356.6 153.8,348.5 156.3,345.5 158.3,347 160.5,352.5 163,362 166,369.5 170,376.5 174,379.5 185,381 205,381.8 251,383" fill="none" stroke="#111" stroke-width="1.4" stroke-linejoin="round" stroke-dasharray="4.5,3.5"/>
<polyline points="68.6,376.5 73.8,375 76.7,369.2 80.4,361.8 84.1,353.7 87,345.6 90,338.3 92.2,330.9 93.7,325 96.3,320.6 98.5,316 100.4,313.5 102,309 104,305.8 105.8,305.2 106.4,312.3 108.2,318.3 109.3,327.8 110.6,333.8 112.8,347.1 114.3,358.9 115.8,367.7 118.7,375 122.4,378.8 126.8,377.3 131.2,375.8 133,374.7 138.1,369.7 143.1,362.6 146.2,352.5 148.2,340.4 150.2,330.3 152.6,316.2 155.3,306 157.3,316 158.3,330 159.3,340 161.3,352.5 163.3,362.6 166.4,370 170.4,377 174.4,380 185,381 200,381.5 225,382 251,382.8" fill="none" stroke="#111" stroke-width="1.35" stroke-linejoin="round"/>
<polyline points="320,379 340,379.5 360,378.5 370,376 378,372 385,367 390,361 393,352 395,343 397,332 399,318 400.5,306 401.5,287 403,268 405.5,249 406.5,237 412.5,237 413,249 414.5,268 415.3,287 416,306 417,332 418,345 420.5,362 424,373 430,380 445,382 510,383.5" fill="none" stroke="#111" stroke-width="1.4" stroke-linejoin="round" stroke-dasharray="4.5,3.5"/>
<polyline points="320,378 330,379 345,380 360,380 368.5,378 375,376 381.4,372.6 387,366 392,359.8 395,350 396.8,342.7 398.5,332 400,318 401.2,306 402,300 403.2,288 404.3,268 405.2,259.5 406.3,249 406.9,237 413.5,237 413.5,249 415,268 415.8,287 416.4,306 417.3,332 418,342 421,360 425,372 430.5,380 440,382 460,383 510,383.5" fill="none" stroke="#111" stroke-width="1.35" stroke-linejoin="round"/>
<line x1="67" y1="272" x2="67" y2="376" stroke="#111" stroke-width="1.6" />
<line x1="66.8" y1="325" x2="66.8" y2="376" stroke="#111" stroke-width="2.4" />
<line x1="319.6" y1="307.8" x2="319.6" y2="378" stroke="#111" stroke-width="2.4" />
<line x1="66.6" y1="145" x2="200.7" y2="145" stroke="#111" stroke-width="1.8" />
<line x1="66.6" y1="134.5" x2="66.6" y2="156" stroke="#111" stroke-width="1.8" />
<line x1="200.7" y1="134.5" x2="200.7" y2="156" stroke="#111" stroke-width="1.8" />
<text transform="translate(136.332,157.2) scale(1.098,1)" font-size="10.756" stroke="#111" stroke-width="0.3">M</text>
<path d="M150.3,152 L152.9,150.1 L152.9,157.2" fill="none" stroke="#111" stroke-width="1.4" stroke-linejoin="miter"/>
<line x1="320.8" y1="155.3" x2="461.6" y2="155.3" stroke="#111" stroke-width="1.8" />
<line x1="320.8" y1="144.5" x2="320.8" y2="167.4" stroke="#111" stroke-width="1.8" />
<line x1="461.6" y1="144.5" x2="461.6" y2="167.4" stroke="#111" stroke-width="1.8" />
<text transform="translate(391.183,168.1) scale(1.123,1)" font-size="11.047" stroke="#111" stroke-width="0.3">M</text>
<path d="M404.9,162.7 L407.3,160.8 L407.3,168.1" fill="none" stroke="#111" stroke-width="1.4" stroke-linejoin="miter"/>
<line x1="128.8" y1="341" x2="251.6" y2="341" stroke="#111" stroke-width="1.8" />
<line x1="128.8" y1="331.2" x2="128.8" y2="352.5" stroke="#111" stroke-width="1.8" />
<text transform="translate(191.709,354.2) scale(1.204,1)" font-size="11.047" stroke="#111" stroke-width="0.3">M</text>
<path d="M205.3,348.8 L207.8,346.9 L207.8,354.2" fill="none" stroke="#111" stroke-width="1.4" stroke-linejoin="miter"/>
<line x1="381" y1="341.7" x2="509.4" y2="341.7" stroke="#111" stroke-width="1.8" />
<line x1="381" y1="331.6" x2="381" y2="353.4" stroke="#111" stroke-width="1.8" />
<line x1="509.4" y1="331.6" x2="509.4" y2="353.4" stroke="#111" stroke-width="1.8" />
<text transform="translate(445.485,354.2) scale(1.215,1)" font-size="11.192" stroke="#111" stroke-width="0.3">M</text>
<path d="M459.5,348.7 L462.1,346.8 L462.1,354.2" fill="none" stroke="#111" stroke-width="1.4" stroke-linejoin="miter"/>
<line x1="85" y1="84.5" x2="99.9" y2="84.5" stroke="#111" stroke-width="1.0" />
<rect x="85.9" y="97.7" width="1.6" height="1.6"/>
<rect x="89.767" y="97.7" width="1.6" height="1.6"/>
<rect x="93.633" y="97.7" width="1.6" height="1.6"/>
<rect x="97.5" y="97.7" width="1.6" height="1.6"/>
<text transform="translate(103.492,82.2) scale(1.138,1)" font-size="11.748" >37 %</text>
<text transform="translate(104.891,99) scale(1.222,1)" font-size="11.605" >22 %</text>
<line x1="350.5" y1="83.8" x2="365.6" y2="83.8" stroke="#111" stroke-width="1.0" />
<rect x="351.5" y="97.7" width="1.6" height="1.6"/>
<rect x="355.4" y="97.7" width="1.6" height="1.6"/>
<rect x="359.3" y="97.7" width="1.6" height="1.6"/>
<rect x="363.2" y="97.7" width="1.6" height="1.6"/>
<text transform="translate(369.273,82.2) scale(1.082,1)" font-size="12.321" >95 %</text>
<text transform="translate(371.25,98.3) scale(1.254,1)" font-size="11.032" >93 %</text>
<line x1="168.3" y1="292.9" x2="184" y2="292.9" stroke="#111" stroke-width="1.0" />
<rect x="169.1" y="307.1" width="1.6" height="1.6"/>
<rect x="173.167" y="307.1" width="1.6" height="1.6"/>
<rect x="177.233" y="307.1" width="1.6" height="1.6"/>
<rect x="181.3" y="307.1" width="1.6" height="1.6"/>
<text transform="translate(187.388,291.1) scale(1.119,1)" font-size="12.034" >36 %</text>
<text transform="translate(188.9,308.1) scale(1.136,1)" font-size="12.321" >22 %</text>
<line x1="435" y1="292.8" x2="450.3" y2="292.8" stroke="#111" stroke-width="1.0" />
<rect x="435.9" y="307.1" width="1.6" height="1.6"/>
<rect x="440" y="307.1" width="1.6" height="1.6"/>
<rect x="444.1" y="307.1" width="1.6" height="1.6"/>
<rect x="448.2" y="307.1" width="1.6" height="1.6"/>
<text transform="translate(453.565,291.1) scale(1.123,1)" font-size="12.034" >91 %</text>
<text transform="translate(455.396,308.1) scale(1.114,1)" font-size="12.607" >87 %</text>
</svg>
</body></html>
